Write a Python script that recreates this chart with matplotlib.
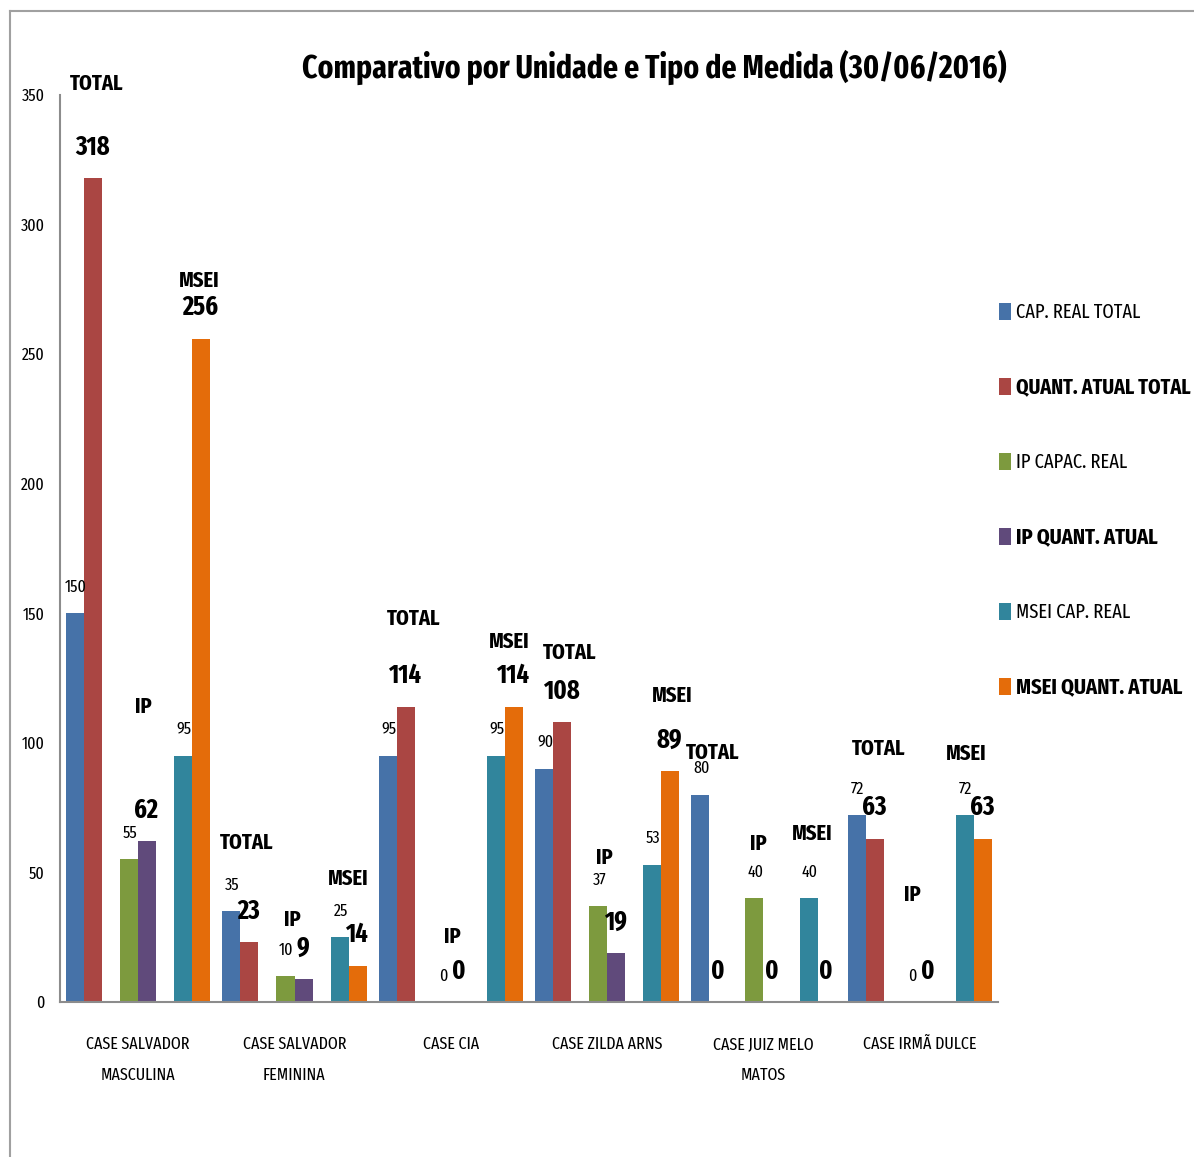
import matplotlib
matplotlib.use("Agg")
import matplotlib.pyplot as plt
from matplotlib import font_manager
from matplotlib.patches import Rectangle
import numpy as np

# ---------------- data ----------------
categories = ["CASE SALVADOR\nMASCULINA", "CASE SALVADOR\nFEMININA", "CASE CIA",
              "CASE ZILDA ARNS", "CASE JUIZ MELO\nMATOS", "CASE IRMÃ DULCE"]
series_names = ["CAP. REAL TOTAL", "QUANT. ATUAL TOTAL", "IP CAPAC. REAL",
                "IP QUANT. ATUAL", "MSEI CAP. REAL", "MSEI QUANT. ATUAL"]
cap_total = [150, 35, 95, 90, 80, 72]
quant_total = [318, 23, 114, 108, 0, 63]
ip_cap = [55, 10, 0, 37, 40, 0]
ip_quant = [62, 9, 0, 19, 0, 0]
msei_cap = [95, 25, 95, 53, 40, 72]
msei_quant = [256, 14, 114, 89, 0, 63]
group_names = ["TOTAL", "IP", "MSEI"]
yticks = [0, 50, 100, 150, 200, 250, 300, 350]
title = "Comparativo por Unidade e Tipo de Medida (30/06/2016)"

# ---------------- style ----------------
colors = ["#4672A8", "#AA4643", "#7D9A3E", "#604A7B", "#31859C", "#E46C0A"]
slots = [0, 1, 3, 4, 6, 7]
# group label offsets (pixels) relative to the top of the "quant" bar, per category/group
grp_off = [
    [(4, 94), (-4, 134), (-2, 58)],
    [(-3, 100), (-11, 59), (-9, 87)],
    [(8, 88), (-8, 65), (-5, 65)],
    [(8, 69), (-12, 95), (2, 76)],
    [(-6, 249), (-14, 158), (-14, 168)],
    [(4, 90), (-17, 107), (-17, 85)],
]

avail = {f.name for f in font_manager.fontManager.ttflist}
fam = "DejaVu Sans"
for cand in ["Fira Sans Extra Condensed", "Roboto Condensed", "Open Sans Condensed",
             "PT Sans Narrow", "Liberation Sans Narrow"]:
    if cand in avail:
        fam = cand
        break
plt.rcParams["font.family"] = [fam, "DejaVu Sans"]
if fam == "DejaVu Sans":
    plt.rcParams["font.stretch"] = "condensed"

W, H = 1194, 1157
fig = plt.figure(figsize=(W / 100, H / 100), dpi=100)
ax = fig.add_axes([60 / W, 1 - 1002 / H, (998 - 60) / W, (1002 - 95) / H])

# outer frame
fig.add_artist(plt.Line2D([10 / W, 10 / W], [0, 1 - 11 / H], color="#A0A0A0", lw=1.5,
                          transform=fig.transFigure))
fig.add_artist(plt.Line2D([10 / W, 1], [1 - 11 / H, 1 - 11 / H], color="#A0A0A0", lw=1.5,
                          transform=fig.transFigure))

series = [cap_total, quant_total, ip_cap, ip_quant, msei_cap, msei_quant]
n = len(categories)
x = np.arange(n)
bw = 18 / 156
bars = []
for s, (vals, slot) in enumerate(zip(series, slots)):
    xs = x - 0.5 + (15 + 18 * slot) / 156
    b = ax.bar(xs, vals, width=bw, color=colors[s], label=series_names[s], zorder=2)
    bars.append(b)

ax.set_xlim(-0.5, n - 0.5)
ax.set_ylim(0, 350)
ax.set_yticks(yticks)
ax.set_yticklabels([str(t) for t in yticks], fontsize=12.5)
ax.set_xticks(x)
ax.set_xticklabels(categories, fontsize=12.5, linespacing=2.15)
ax.tick_params(axis="both", length=0)
ax.tick_params(axis="y", pad=11)
ax.tick_params(axis="x", pad=25)
for sp in ["top", "right"]:
    ax.spines[sp].set_visible(False)
for sp in ["left", "bottom"]:
    ax.spines[sp].set_color("#8C8C8C")
    ax.spines[sp].set_linewidth(1.5)

# value labels
for s in range(6):
    is_quant = s % 2 == 1
    for i, rect in enumerate(bars[s]):
        v = series[s][i]
        cx = rect.get_x() + rect.get_width() / 2
        if is_quant:
            ax.annotate(str(v), (cx, v), xytext=(-1, 31), textcoords="offset pixels",
                        ha="center", va="center", fontsize=19, fontweight="bold")
        else:
            ax.annotate(str(v), (cx, v), xytext=(1, 26), textcoords="offset pixels",
                        ha="center", va="center", fontsize=12.5)

# group labels
for i in range(n):
    for g in range(3):
        s = 2 * g + 1
        rect = bars[s][i]
        v = series[s][i]
        cx = rect.get_x() + rect.get_width() / 2
        dx, dy = grp_off[i][g]
        ax.annotate(group_names[g], (cx, v), xytext=(dx, dy), textcoords="offset pixels",
                    ha="center", va="center", fontsize=16, fontweight="bold")

ttl = fig.text(654 / W, 1 - 67 / H, title, ha="center", va="center", fontsize=28,
               fontweight="bold")

# legend (manual, one row per series)
leg_texts = []
leg_widths = [125, 175, 112, 142, 115, 167]
for k in range(6):
    yc = 1 - (312 + 75 * k) / H
    fig.add_artist(Rectangle((999 / W, yc - 8 / H), 12 / W, 17 / H, facecolor=colors[k],
                             edgecolor="none", transform=fig.transFigure))
    t = fig.text(1016 / W, yc, series_names[k], ha="left", va="center",
                 fontsize=16, fontweight="bold" if k % 2 else "normal")
    leg_texts.append(t)

# fit text widths to the reference
fig.canvas.draw()
r = fig.canvas.get_renderer()
def fit(t, target):
    w = t.get_window_extent(r).width
    t.set_fontsize(t.get_fontsize() * target / w)
fit(ttl, 704)
for t, w in zip(leg_texts, leg_widths):
    fit(t, w)

fig.savefig("out.png", dpi=100)
